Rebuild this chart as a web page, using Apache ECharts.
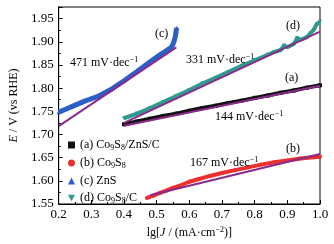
<!DOCTYPE html>
<html>
<head>
<meta charset="utf-8">
<script src="https://cdn.jsdelivr.net/npm/echarts@6/dist/echarts.min.js"></script>
<style>
  html, body { margin: 0; padding: 0; background: #fff; }
  #chart { width: 334px; height: 244px; }
</style>
</head>
<body>
<div id="chart"></div>
<script>
// data: [lg J, E]
var seriesNames = ['(a) Co9S8/ZnS/C', '(b) Co9S8', '(c) ZnS', '(d) Co9S8/C'];

var dataA = [[0.40,1.722],[0.44,1.728],[0.48,1.734],[0.52,1.740],[0.56,1.745],[0.60,1.751],[0.64,1.757],
  [0.68,1.762],[0.72,1.768],[0.76,1.773],[0.80,1.779],[0.84,1.784],[0.88,1.790],[0.92,1.795],[0.96,1.801],[1.00,1.806]];
var dataB = [[0.47,1.563],[0.49,1.568],[0.51,1.574],[0.53,1.579],[0.55,1.585],[0.58,1.592],[0.60,1.598],[0.63,1.604],
  [0.66,1.610],[0.70,1.617],[0.74,1.623],[0.78,1.629],[0.82,1.635],[0.86,1.640],[0.90,1.644],[0.94,1.648],[0.98,1.651],[1.00,1.652]];
var dataC = [[0.20,1.748],[0.24,1.760],[0.28,1.772],[0.32,1.782],[0.36,1.797],[0.40,1.816],[0.44,1.836],[0.48,1.857],
  [0.51,1.872],[0.53,1.881],[0.545,1.888],[0.55,1.895],[0.555,1.905],[0.558,1.915],[0.56,1.925],[0.562,1.930]];
var dataD = [[0.40,1.735],[0.44,1.745],[0.48,1.757],[0.52,1.770],[0.56,1.783],[0.60,1.796],[0.64,1.810],[0.68,1.822],
  [0.72,1.835],[0.76,1.848],[0.80,1.860],[0.84,1.872],[0.86,1.878],[0.88,1.882],[0.89,1.892],[0.90,1.888],[0.92,1.895],
  [0.93,1.908],[0.94,1.904],[0.96,1.910],[0.97,1.918],[0.98,1.925],[0.99,1.938],[1.00,1.943]];

// Tafel fit lines (end points)
var fitA = [[0.40,1.719],[1.00,1.805]];
var fitB = [[0.48,1.569],[1.00,1.658]];
var fitC = [[0.20,1.718],[0.56,1.888]];
var fitD = [[0.40,1.725],[1.00,1.922]];

var serif = 'Liberation Serif';
var purple = '#8a2b8c';

var chart = echarts.init(document.getElementById('chart'), null, {renderer: 'canvas'});

function dataSeries(name, data, color, symbol, width) {
  return {
    name: name, type: 'line', data: data, symbol: symbol, symbolSize: 4,
    showSymbol: true, itemStyle: {color: color},
    lineStyle: {color: color, width: width}, z: 2, animation: false
  };
}
function fitSeries(data) {
  return {
    type: 'line', data: data, symbol: 'none',
    lineStyle: {color: purple, width: 2}, z: 3, animation: false
  };
}

var sub = {fontSize: 8, fontFamily: serif, color: '#000', padding: [6, 0, 0, 0]};
var sup = {fontSize: 8, fontFamily: serif, color: '#000', padding: [0, 0, 6, 0]};
var txt = {fontSize: 12, fontFamily: serif, color: '#000'};

// legend labels with subscripts
var legendText = {
  '(a) Co9S8/ZnS/C': '{t|(a) Co}{s|9}{t|S}{s|8}{t|/ZnS/C}',
  '(b) Co9S8': '{t|(b) Co}{s|9}{t|S}{s|8}',
  '(c) ZnS': '{t|(c) ZnS}',
  '(d) Co9S8/C': '{t|(d) Co}{s|9}{t|S}{s|8}{t|/C}'
};

function slopeText(v, left, top) {
  return {
    type: 'text', left: left, top: top, z: 10,
    style: {
      text: '{t|' + v + ' mV·dec}{s|−1}',
      rich: {t: txt, s: sup}
    }
  };
}
function tag(t, left, top) {
  return {type: 'text', left: left, top: top, z: 10,
    style: {text: t, font: '12px "Liberation Serif"', fill: '#000'}};
}

chart.setOption({
  grid: {left: 52, right: 14, top: 7, bottom: 38, show: true, borderColor: '#000', borderWidth: 1},
  legend: {
    orient: 'vertical', left: 63, top: 134, itemGap: 5, itemWidth: 7, itemHeight: 7,
    data: [
      {name: seriesNames[0], icon: 'rect'},
      {name: seriesNames[1], icon: 'circle'},
      {name: seriesNames[2], icon: 'triangle'},
      {name: seriesNames[3], icon: 'path://M0,0L10,0L5,9Z'}
    ],
    formatter: function (n) { return legendText[n]; },
    textStyle: {rich: {t: txt, s: sub}, fontFamily: serif, fontSize: 12, color: '#000'}
  },
  xAxis: {
    type: 'value', min: 0.2, max: 1.0, interval: 0.1,
    name: '{t|lg[}{i|J}{t| / (mA·cm}{s|−2}{t|)]}', nameLocation: 'middle', nameGap: 22,
    nameTextStyle: {rich: {t: txt, i: {fontSize: 12, fontFamily: serif, fontStyle: 'italic', color: '#000'}, s: sup}},
    axisLine: {lineStyle: {color: '#000'}},
    axisTick: {inside: true, length: 4, lineStyle: {color: '#000'}},
    minorTick: {show: true, splitNumber: 2, length: 2, lineStyle: {color: '#000'}},
    splitLine: {show: false},
    axisLabel: {fontFamily: serif, fontSize: 13, color: '#000', margin: 4,
      formatter: function (v) { return v.toFixed(1); }}
  },
  yAxis: {
    type: 'value', min: 1.55, max: 1.975, interval: 0.05,
    name: '{i|E}{t| / V (vs RHE)}', nameLocation: 'middle', nameGap: 38,
    nameTextStyle: {rich: {t: txt, i: {fontSize: 12, fontFamily: serif, fontStyle: 'italic', color: '#000'}}},
    axisLine: {lineStyle: {color: '#000'}},
    axisTick: {inside: true, length: 4, lineStyle: {color: '#000'}},
    minorTick: {show: true, splitNumber: 2, length: 2, lineStyle: {color: '#000'}},
    splitLine: {show: false},
    axisLabel: {fontFamily: serif, fontSize: 13, color: '#000', margin: 5, showMaxLabel: false,
      formatter: function (v) { return v.toFixed(2); }}
  },
  graphic: [
    tag('(c)', 155, 28), tag('(d)', 286, 20), tag('(a)', 285, 72), tag('(b)', 286, 143),
    slopeText(471, 70, 56), slopeText(331, 186, 53), slopeText(144, 215, 110), slopeText(167, 190, 156)
  ],
  series: [
    dataSeries(seriesNames[0], dataA, '#111111', 'rect', 4),
    dataSeries(seriesNames[1], dataB, '#ec2f2f', 'circle', 4),
    dataSeries(seriesNames[2], dataC, '#2e5fc8', 'triangle', 5),
    dataSeries(seriesNames[3], dataD, '#2f9a8e', 'path://M0,0L10,0L5,9Z', 4),
    fitSeries(fitA), fitSeries(fitB), fitSeries(fitC), fitSeries(fitD)
  ]
});
</script>
</body>
</html>
